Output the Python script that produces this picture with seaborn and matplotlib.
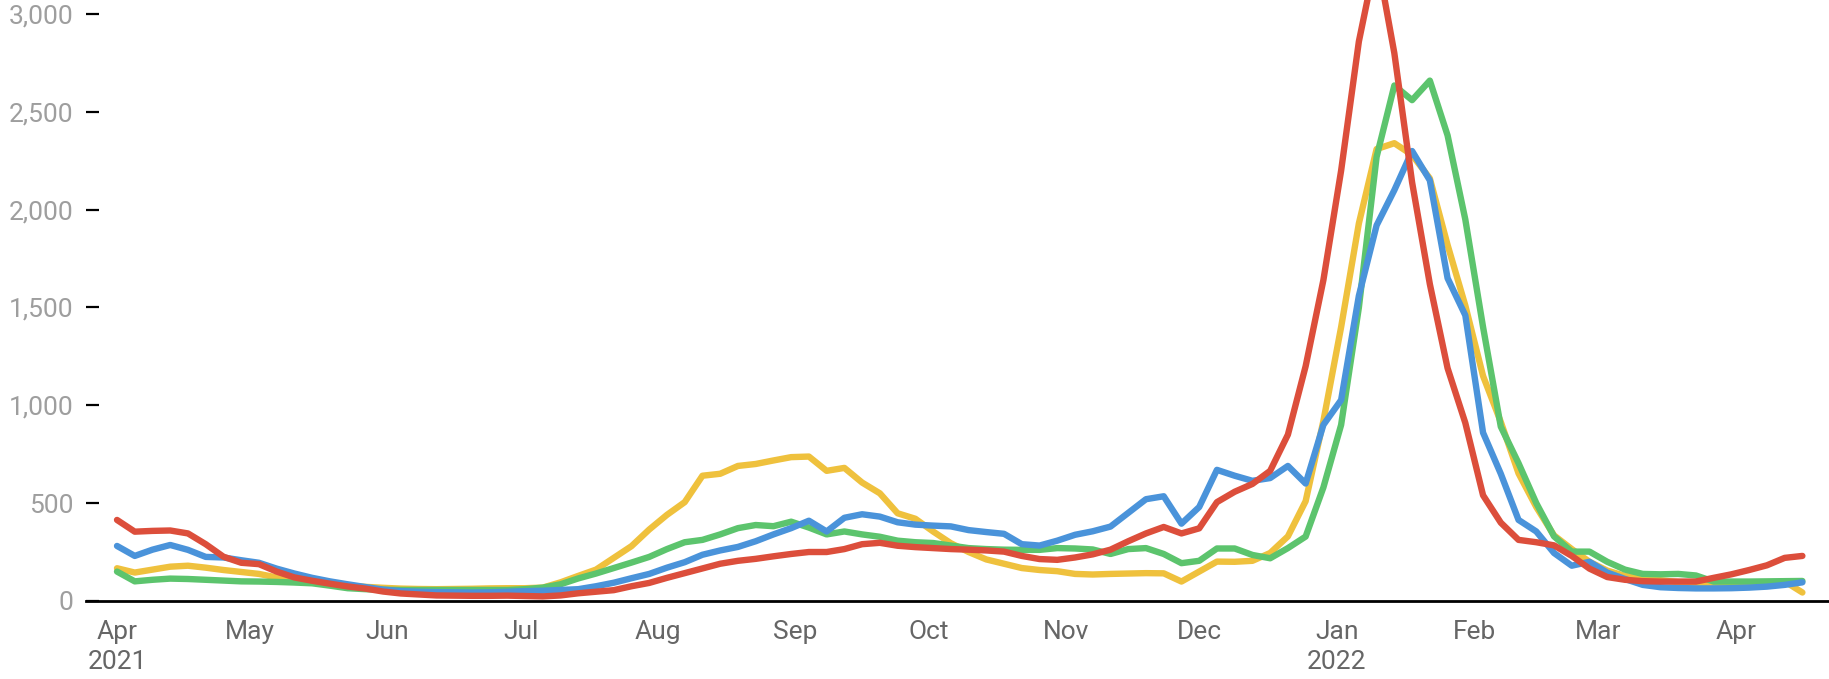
import numpy as np
import pandas as pd
import matplotlib
matplotlib.use("Agg")
import matplotlib.pyplot as plt
import seaborn as sns

# ── Data (one value every 4 days from 1 Apr 2021) ──
START = "2021-04-01"
STEP = "4D"

yellow = [167, 145, 160, 175, 180, 170, 158, 148, 138, 120,
          106, 96, 86, 78, 72, 67, 63, 61, 60, 61,
          62, 64, 65, 65, 68, 95, 128, 160, 220, 280,
          365, 440, 505, 640, 650, 690, 700, 718, 735, 738,
          665, 680, 605, 550, 448, 420, 355, 295, 250, 212,
          190, 168, 158, 152, 138, 135, 138, 140, 142, 141,
          99, 150, 201, 200, 205, 245, 330, 510, 920, 1400,
          1930, 2310, 2340, 2280, 2160, 1820, 1510, 1150, 915, 652,
          480, 335, 265, 200, 155, 128, 118, 106, 96, 88,
          80, 77, 80, 85, 100, 43]

green = [150, 100, 108, 114, 112, 108, 104, 100, 99, 97,
         94, 90, 78, 65, 60, 57, 56, 56, 56, 56,
         56, 56, 56, 60, 68, 85, 115, 140, 168, 196,
         225, 265, 300, 312, 340, 372, 388, 382, 405, 375,
         340, 355, 340, 328, 308, 300, 296, 283, 270, 265,
         262, 261, 261, 270, 268, 263, 240, 265, 270, 240,
         193, 205, 268, 268, 235, 218, 270, 329, 580, 900,
         1500, 2270, 2635, 2560, 2660, 2380, 1950, 1400, 891, 704,
         500, 330, 252, 252, 200, 160, 138, 136, 138, 130,
         99, 99, 99, 100, 101, 102]

blue = [281, 230, 262, 286, 261, 225, 222, 208, 195, 165,
        140, 118, 100, 85, 71, 58, 50, 47, 45, 44,
        43, 44, 47, 50, 52, 56, 60, 75, 93, 116,
        138, 170, 198, 236, 258, 276, 305, 340, 372, 410,
        355, 425, 443, 431, 402, 390, 385, 381, 362, 352,
        343, 290, 283, 308, 338, 356, 380, 450, 520, 535,
        395, 480, 670, 640, 614, 628, 690, 600, 900, 1027,
        1560, 1920, 2100, 2300, 2150, 1650, 1460, 860, 650, 414,
        355, 245, 180, 200, 145, 112, 82, 70, 66, 64,
        64, 65, 68, 73, 82, 95]

red = [414, 354, 358, 360, 345, 290, 226, 195, 188, 150,
       120, 103, 88, 74, 63, 48, 38, 33, 28, 27,
       26, 26, 27, 25, 23, 28, 39, 47, 55, 75,
       92, 118, 142, 166, 190, 205, 215, 228, 240, 250,
       250, 265, 290, 297, 282, 275, 270, 265, 262, 258,
       252, 230, 214, 210, 222, 238, 262, 305, 345, 378,
       345, 371, 505, 558, 598, 665, 850, 1200, 1640, 2200,
       2860, 3300, 2800, 2140, 1620, 1190, 910, 540, 400, 312,
       300, 284, 230, 165, 122, 108, 101, 99, 99, 99,
       118, 136, 158, 182, 220, 230]

SERIES_ORDER = ["yellow", "green", "blue", "red"]   # bottom -> top
COLORS = {
    "yellow": "#EFC13D",
    "green":  "#5CC46D",
    "blue":   "#4A93DA",
    "red":    "#DC4E3B",
}

MONTH_TICKS = ["2021-04-01", "2021-05-01", "2021-06-01", "2021-07-01",
               "2021-08-01", "2021-09-01", "2021-10-01", "2021-11-01",
               "2021-12-01", "2022-01-01", "2022-02-01", "2022-03-01",
               "2022-04-01"]
MONTH_LABELS = ["Apr\n2021", "May", "Jun", "Jul", "Aug", "Sep", "Oct",
                "Nov", "Dec", "Jan\n2022", "Feb", "Mar", "Apr"]
Y_TICKS = [0, 500, 1000, 1500, 2000, 2500, 3000]

# ── Build long table ─────────────────────────────────────────────────
dates = pd.date_range(START, periods=len(red), freq=STEP)
series = {"yellow": yellow, "green": green, "blue": blue, "red": red}
df = pd.concat(
    [pd.DataFrame({"date": dates, "value": vals, "series": name})
     for name, vals in series.items()],
    ignore_index=True,
)

# ── Plot ─────────────────────────────────────────────────────────────
sns.set_style("white")
plt.rcParams["font.family"] = ["Roboto", "DejaVu Sans"]

fig = plt.figure(figsize=(18.29, 6.79), dpi=100)
ax = fig.add_axes([0.047, 0.115, 0.953, 0.885])

sns.lineplot(data=df, x="date", y="value", hue="series",
             hue_order=SERIES_ORDER, palette=COLORS, linewidth=4.6,
             legend=False, ax=ax)

ax.set_xlim(pd.Timestamp("2021-03-25"), pd.Timestamp("2022-04-22"))
ax.set_ylim(0, 3072)

ax.set_yticks(Y_TICKS)
ax.set_yticklabels([f"{v:,}" for v in Y_TICKS], fontsize=19, color="#9E9E9E")
ax.tick_params(axis="y", direction="in", length=9.5, width=1.6,
               color="black", pad=9, left=True)

ax.set_xticks(pd.to_datetime(MONTH_TICKS))
ax.set_xticklabels(MONTH_LABELS, fontsize=19, color="#666666",
                   linespacing=1.3)
ax.tick_params(axis="x", length=0, pad=14)

ax.set_xlabel("")
ax.set_ylabel("")
for side in ("left", "right", "top"):
    ax.spines[side].set_visible(False)
ax.spines["bottom"].set_color("black")
ax.spines["bottom"].set_linewidth(2)
ax.grid(False)

fig.savefig("out.png", dpi=100, facecolor="white")
